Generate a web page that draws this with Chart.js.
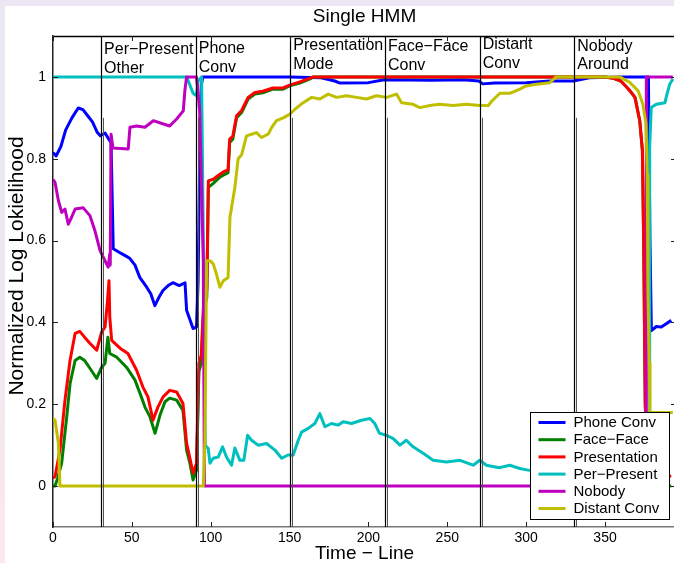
<!DOCTYPE html>
<html>
<head>
<meta charset="utf-8">
<script src="https://cdn.jsdelivr.net/npm/chart.js@4.4.0/dist/chart.umd.min.js"></script>
<style>
  html, body {
    margin: 0; padding: 0; width: 674px; height: 563px; overflow: hidden;
    background: linear-gradient(to bottom, #ebe8f4 0%, #eee8f2 55%, #fce8ec 100%);
  }
  #paper { position: absolute; left: 5px; top: 6px; right: 0; bottom: 0; background: #fff; }
  #wrap { position: absolute; left: 0; top: 0; width: 680px; height: 563px; }
</style>
</head>
<body>
<div id="paper"></div>
<div id="wrap"><canvas id="hmmChart" width="680" height="563"></canvas></div>
<script>
/* ---- data ---- */
const seriesNames = ["Phone Conv", "Face\u2212Face", "Presentation", "Per\u2212Present", "Nobody", "Distant Conv"];
const seriesColors = ["#0000ff", "#007f00", "#ff0000", "#00bfbf", "#bf00bf", "#bfbf00"];

const phoneX = [0, 2, 5, 8, 12, 16, 19, 22, 25, 28, 30, 33, 36, 36.8, 38.2, 43.5, 47.7, 48.8, 52, 55, 59.4, 62, 64.6, 67, 69.7, 73, 76, 80, 83.7, 84.7, 86.5, 88.8, 91, 92, 93, 94, 95, 120, 150, 170, 178.6, 182, 200, 210, 240, 260, 270, 272.5, 280, 300, 315, 330, 340, 360, 377.5, 378.5, 379.4, 382.5, 385.7, 388.8, 392];
const phoneY = [0.815, 0.807, 0.83, 0.87, 0.9, 0.924, 0.92, 0.905, 0.89, 0.865, 0.856, 0.863, 0.844, 0.84, 0.58, 0.568, 0.559, 0.556, 0.54, 0.51, 0.486, 0.47, 0.441, 0.46, 0.478, 0.49, 0.497, 0.49, 0.497, 0.43, 0.41, 0.385, 0.389, 0.5, 0.8, 0.98, 1, 1, 1, 0.998, 0.99, 0.985, 0.986, 0.993, 0.992, 0.993, 0.99, 0.983, 0.985, 0.986, 0.99, 0.99, 0.998, 1, 1, 0.6, 0.38, 0.39, 0.389, 0.397, 0.405];

const faceX = [0, 1.3, 3, 5.5, 8.7, 10.8, 14, 17, 20, 23.4, 27.7, 30.8, 33, 34.8, 36, 40.4, 46.7, 52, 56, 58.3, 61.5, 64.7, 67.8, 71, 74, 78.4, 82.4, 84.7, 86.8, 88.8, 91, 92.5, 94, 95.5, 97.5, 98.5, 101.6, 105.8, 109, 111, 112, 114, 116.4, 119.6, 123.7, 128, 133, 139.5, 145.8, 150, 156.5, 163, 165, 200, 300, 350, 355, 360, 363.5, 366, 369, 372, 373.7, 374.5, 375.5, 377, 385, 392];
const faceY = [0, 0, 0.02, 0.056, 0.169, 0.25, 0.307, 0.315, 0.307, 0.288, 0.263, 0.29, 0.3, 0.364, 0.324, 0.315, 0.29, 0.259, 0.218, 0.193, 0.169, 0.129, 0.173, 0.206, 0.215, 0.21, 0.185, 0.088, 0.056, 0.015, 0.039, 0.28, 0.3, 0.43, 0.46, 0.73, 0.74, 0.755, 0.762, 0.766, 0.84, 0.848, 0.9, 0.913, 0.946, 0.958, 0.961, 0.97, 0.97, 0.978, 0.985, 0.995, 1, 1, 1, 1, 0.997, 0.99, 0.976, 0.965, 0.95, 0.893, 0.82, 0.6, 0.2, 0.01, 0, 0];

const presX = [0, 1.3, 4.4, 7.6, 10.8, 14, 17, 20, 23.4, 27.7, 30.8, 33, 34.5, 35.5, 36, 37.2, 42.5, 47.5, 53, 57, 60.2, 63.4, 66.5, 69.8, 74, 78.4, 82.4, 84.7, 86.8, 88.8, 91, 92.5, 94, 95.5, 97.5, 98.5, 101.6, 105.8, 109, 111, 112, 114, 116.4, 119.6, 123.7, 128, 133, 139.5, 145.8, 150, 156.5, 163, 165, 200, 300, 350, 355, 360, 363.5, 366, 369, 372, 373.7, 374.5, 375.5, 377, 385, 392];
const presY = [0.02, 0.023, 0.088, 0.21, 0.307, 0.373, 0.378, 0.364, 0.349, 0.332, 0.376, 0.389, 0.45, 0.502, 0.413, 0.356, 0.337, 0.324, 0.283, 0.242, 0.218, 0.161, 0.193, 0.218, 0.234, 0.23, 0.202, 0.105, 0.068, 0.032, 0.056, 0.3, 0.32, 0.45, 0.478, 0.746, 0.75, 0.762, 0.77, 0.773, 0.848, 0.855, 0.905, 0.918, 0.95, 0.962, 0.965, 0.973, 0.973, 0.98, 0.988, 0.997, 1, 1, 1, 1, 0.997, 0.99, 0.976, 0.965, 0.95, 0.893, 0.82, 0.6, 0.2, 0.03, 0.02, 0.025];

const perX = [0, 84.7, 86.8, 88.8, 91, 92, 94.2, 95.3, 96.5, 98.4, 99.5, 101.6, 104.8, 107.5, 110, 113.2, 115.3, 118.5, 121, 123.4, 125.9, 130, 135.4, 140.7, 145, 149, 152.3, 155.5, 157.6, 161.8, 166, 169.2, 172.4, 176.6, 180.8, 184, 189.3, 195.6, 201, 204, 207, 211.5, 215.7, 220, 224, 228.3, 234.7, 241, 249.5, 258, 266.4, 270.6, 274.8, 283, 289.6, 296, 301.2, 310, 330, 355, 375, 378, 378.3, 379.3, 382.5, 388, 389, 391, 393];
const perY = [1, 1, 0.98, 0.96, 0.954, 0.99, 1, 0.6, 0.1, 0.092, 0.056, 0.068, 0.071, 0.096, 0.071, 0.051, 0.093, 0.063, 0.063, 0.124, 0.112, 0.1, 0.104, 0.088, 0.068, 0.076, 0.076, 0.112, 0.132, 0.141, 0.153, 0.177, 0.145, 0.153, 0.149, 0.157, 0.153, 0.161, 0.165, 0.153, 0.129, 0.124, 0.116, 0.1, 0.112, 0.096, 0.08, 0.063, 0.059, 0.063, 0.051, 0.063, 0.051, 0.045, 0.051, 0.043, 0.039, 0.035, 0.03, 0.02, 0.015, 0.02, 0.828, 0.925, 0.933, 0.937, 0.954, 0.982, 0.995];

const nobodyX = [0, 1.3, 3.4, 5.5, 7.6, 9.7, 11.8, 14, 19.2, 23.4, 26.6, 29.8, 31.9, 35, 36, 36.3, 36.8, 38, 47.7, 48.8, 53, 58.3, 63.6, 70, 74, 78.4, 82.6, 83.6, 84.7, 91, 93, 95.3, 96, 376, 376.2, 393];
const nobodyY = [0.75, 0.742, 0.698, 0.669, 0.677, 0.64, 0.657, 0.677, 0.68, 0.661, 0.624, 0.576, 0.559, 0.535, 0.568, 0.54, 0.86, 0.826, 0.824, 0.877, 0.88, 0.877, 0.893, 0.885, 0.88, 0.897, 0.917, 0.966, 1, 1, 0.917, 0.55, 0, 0, 1, 1];

const distX = [0, 1.3, 3.4, 4.4, 95.3, 96.3, 97.4, 99.5, 101.6, 103.5, 105.8, 108, 111, 112.2, 115.3, 117.4, 119.6, 122.7, 125.9, 129, 132.2, 136.4, 138.6, 141.7, 146, 150.2, 153.4, 158.6, 164, 169.2, 174.5, 179.8, 186, 192.5, 198.8, 205, 211.5, 217.8, 221, 228.3, 232.6, 239, 245, 253.7, 262, 270.6, 276, 278, 283.3, 289.6, 296, 300, 306.5, 315, 319, 340, 359.3, 365.6, 371, 374, 376, 376.8, 377.2, 378, 378.5, 385, 393];
const distY = [0.165, 0.161, 0.105, 0, 0, 0.108, 0.551, 0.551, 0.543, 0.52, 0.486, 0.502, 0.51, 0.657, 0.73, 0.8, 0.81, 0.856, 0.86, 0.864, 0.852, 0.86, 0.876, 0.893, 0.9, 0.909, 0.921, 0.937, 0.95, 0.946, 0.958, 0.95, 0.954, 0.95, 0.946, 0.954, 0.95, 0.958, 0.937, 0.933, 0.925, 0.93, 0.933, 0.93, 0.933, 0.93, 0.93, 0.94, 0.96, 0.96, 0.97, 0.978, 0.982, 0.986, 1, 1, 1, 0.987, 0.966, 0.933, 0.885, 0.76, 0.48, 0.3, 0.18, 0.18, 0.18];

// segment boundaries and their labels
const boundaryX = [30.5, 90.5, 150.5, 210.5, 270.5, 330.5];
const segmentLabels = [
  ["Per\u2212Present", "Other"],
  ["Phone", "Conv"],
  ["Presentation", "Mode"],
  ["Face\u2212Face", "Conv"],
  ["Distant", "Conv"],
  ["Nobody", "Around"],
];
const segmentLabelY = [1.066, 1.068, 1.076, 1.073, 1.078, 1.075];

const xTicks = [0, 50, 100, 150, 200, 250, 300, 350];
const xTickLabels = ["0", "50", "100", "150", "200", "250", "300", "350"];
const yTicks = [0, 0.2, 0.4, 0.6, 0.8, 1];
const yTickLabels = ["0", "0.2", "0.4", "0.6", "0.8", "1"];

const FONT = "'Liberation Sans', Arial, Helvetica, sans-serif";

const xs = [phoneX, faceX, presX, perX, nobodyX, distX];
const ys = [phoneY, faceY, presY, perY, nobodyY, distY];

function toPoints(xArr, yArr) {
  return xArr.map((v, i) => ({ x: v, y: yArr[i] }));
}

/* =========================================
   PLUGIN: frame, inward ticks, boundaries, labels, legend, titles
   ========================================= */
const hmmDecor = {
  id: "hmmDecor",
  afterDatasetsDraw(chart) {
    const { ctx, chartArea: a, scales } = chart;
    const x = scales.x, y = scales.y;

    function seg(x1, y1, x2, y2) {
      ctx.beginPath();
      ctx.moveTo(x1, y1);
      ctx.lineTo(x2, y2);
      ctx.stroke();
    }

    ctx.save();

    // vertical segment lines (doubled like the original)
    boundaryX.forEach((b) => {
      const px = Math.round(x.getPixelForValue(b)) + 0.5;
      ctx.strokeStyle = "#000";
      ctx.lineWidth = 1.2;
      seg(px, a.top, px, a.bottom);
      ctx.strokeStyle = "#555";
      ctx.lineWidth = 1;
      seg(px + 2, y.getPixelForValue(0.9), px + 2, a.bottom);
    });

    // frame top
    ctx.strokeStyle = "#000";
    ctx.lineWidth = 1.5;
    seg(a.left, a.top + 0.5, a.right, a.top + 0.5);

    // inward ticks on all four sides
    ctx.lineWidth = 1;
    ctx.strokeStyle = "#222";
    yTicks.forEach((v) => {
      const py = Math.round(y.getPixelForValue(v)) + 0.5;
      seg(a.left, py, a.left + 5, py);
      seg(a.right - 5, py, a.right, py);
    });
    xTicks.forEach((v) => {
      const px = Math.round(x.getPixelForValue(v)) + 0.5;
      seg(px, a.bottom, px, a.bottom - 5);
      seg(px, a.top, px, a.top + 5);
    });

    // segment labels
    ctx.fillStyle = "#000";
    ctx.font = "16px " + FONT;
    ctx.textAlign = "left";
    ctx.textBaseline = "middle";
    segmentLabels.forEach((lines, i) => {
      const px = x.getPixelForValue(boundaryX[i]) + 3;
      const py = y.getPixelForValue(segmentLabelY[i]);
      ctx.fillText(lines[0], px, py);
      ctx.fillText(lines[1], px, py + 18.5);
    });

    // legend box (bottom right, inside the axes)
    const boxW = 139, boxH = 107;
    const bx = Math.round(a.right - 7 - boxW) + 0.5;
    const by = Math.round(a.bottom - 8 - boxH) + 0.5;
    ctx.fillStyle = "#fff";
    ctx.fillRect(bx, by, boxW, boxH);
    ctx.strokeStyle = "#000";
    ctx.lineWidth = 1;
    ctx.strokeRect(bx, by, boxW, boxH);
    ctx.font = "15px " + FONT;
    chart.data.datasets.forEach((ds, i) => {
      const ry = by + 10 + i * 17.2;
      ctx.strokeStyle = ds.borderColor;
      ctx.lineWidth = 3;
      seg(bx + 8, ry, bx + 35, ry);
      ctx.fillStyle = "#000";
      ctx.fillText(ds.label, bx + 43, ry + 0.5);
    });

    ctx.restore();
  },
  afterDraw(chart) {
    const { ctx, chartArea: a } = chart;
    ctx.save();
    ctx.fillStyle = "#000";
    ctx.textAlign = "center";
    ctx.textBaseline = "middle";
    ctx.font = "19px " + FONT;
    ctx.fillText("Single HMM", (a.left + a.right) / 2, 17);
    // y axis title, placed like the original (a bit above centre)
    ctx.font = "21px " + FONT;
    ctx.translate(17, 266);
    ctx.rotate(-Math.PI / 2);
    ctx.fillText("Normalized Log Lokielihood", 0, 0);
    ctx.restore();
  },
};

/* =========================================
   CHART
   ========================================= */
const ctx = document.getElementById("hmmChart").getContext("2d");

const myChart = new Chart(ctx, {
  type: "line",
  data: {
    datasets: seriesNames.map((name, i) => ({
      label: name,
      data: toPoints(xs[i], ys[i]),
      borderColor: seriesColors[i],
      backgroundColor: seriesColors[i],
      borderWidth: 3,
      pointRadius: 0,
      tension: 0,
      fill: false,
      borderJoinStyle: "round",
      order: seriesNames.length - i,
    })),
  },
  options: {
    responsive: false,
    animation: false,
    devicePixelRatio: 1,
    layout: { padding: { left: 0, right: 4, top: 36, bottom: 0 } },
    plugins: {
      legend: { display: false },
      title: { display: false },
      tooltip: { enabled: false },
    },
    scales: {
      x: {
        type: "linear",
        min: 0,
        max: 395,
        grid: { display: false, drawTicks: false },
        border: { display: true, color: "#777", width: 1.5 },
        afterBuildTicks: (scale) => {
          scale.ticks = xTicks.map((v) => ({ value: v }));
        },
        afterFit: (scale) => {
          scale.height = 36;
        },
        ticks: {
          padding: 3,
          color: "#000",
          font: { family: FONT, size: 14 },
          maxRotation: 0,
          callback: (v, i) => xTickLabels[i],
        },
        title: {
          display: true,
          text: "Time \u2212 Line",
          color: "#000",
          font: { family: FONT, size: 19, lineHeight: 1 },
          padding: { top: 0, bottom: 0 },
        },
      },
      y: {
        type: "linear",
        min: -0.1,
        max: 1.1,
        grid: { display: false, drawTicks: false },
        border: { display: true, color: "#222", width: 1.5 },
        afterBuildTicks: (scale) => {
          scale.ticks = yTicks.map((v) => ({ value: v }));
        },
        afterFit: (scale) => {
          scale.width = 53;
        },
        ticks: {
          padding: 7,
          color: "#000",
          font: { family: FONT, size: 14 },
          callback: (v, i) => yTickLabels[i],
        },
      },
    },
  },
  plugins: [hmmDecor],
});
</script>
</body>
</html>
